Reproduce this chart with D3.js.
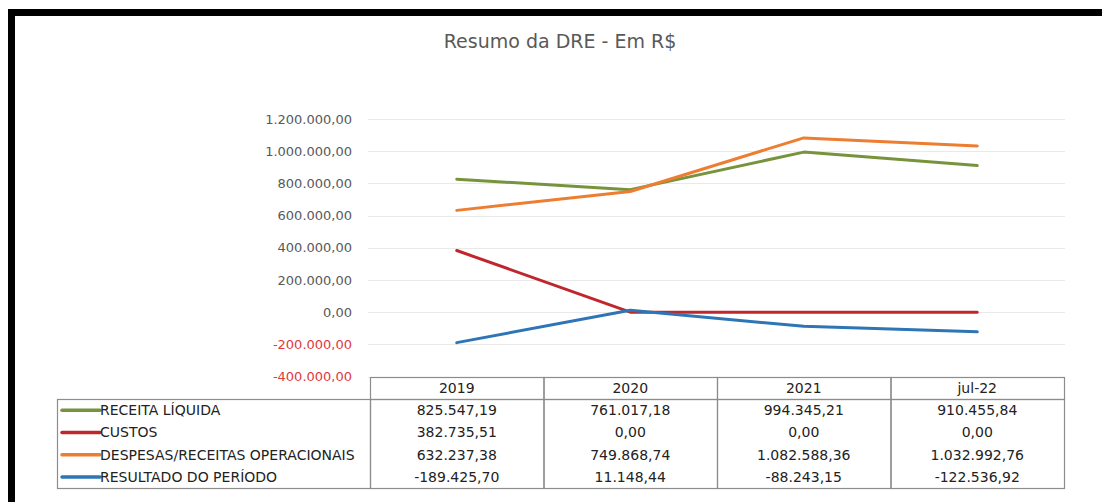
<!DOCTYPE html>
<html>
<head>
<meta charset="utf-8">
<script src="https://cdn.jsdelivr.net/npm/d3@7"></script>
<style>
  html, body { margin: 0; padding: 0; background: #fff; }
  svg { display: block; }
</style>
</head>
<body>
<svg id="chart" width="1102" height="502"></svg>
<script>
// ---- data ----
const categories = ["2019", "2020", "2021", "jul-22"];
const seriesNames = ["RECEITA LÍQUIDA", "CUSTOS", "DESPESAS/RECEITAS OPERACIONAIS", "RESULTADO DO PERÍODO"];
const receitaLiquida = [825547.19, 761017.18, 994345.21, 910455.84];
const custos = [382735.51, 0.00, 0.00, 0.00];
const despesas = [632237.38, 749868.74, 1082588.36, 1032992.76];
const resultado = [-189425.70, 11148.44, -88243.15, -122536.92];
const yTicks = [-400000, -200000, 0, 200000, 400000, 600000, 800000, 1000000, 1200000];
const colors = ["#77933c", "#c0272d", "#ed7d31", "#2e75b6"];
const title = "Resumo da DRE - Em R$";

const seriesValues = [receitaLiquida, custos, despesas, resultado];

// ---- setup ----
const svg = d3.select("#chart");
const font = "'DejaVu Sans', sans-serif";
const loc = d3.formatLocale({ decimal: ",", thousands: ".", grouping: [3], currency: ["R$", ""], minus: "-" });
const fmt = loc.format(",.2f");

// frame
svg.append("rect").attr("x", 8).attr("y", 9).attr("width", 1094).attr("height", 7).attr("fill", "#000");
svg.append("rect").attr("x", 8).attr("y", 9).attr("width", 7).attr("height", 493).attr("fill", "#000");

// scales
const x = d3.scaleBand().domain(categories).range([370, 1064]).padding(0);
const y = d3.scaleLinear().domain([-400000, 1200000]).range([376.5, 119]);
const cx = d => x(d) + x.bandwidth() / 2;

// title
svg.append("text").attr("x", 560).attr("y", 48).attr("text-anchor", "middle")
  .attr("font-family", font).attr("font-size", 19).attr("fill", "#595959").text(title);

// gridlines
svg.append("g").selectAll("line").data(yTicks).join("line")
  .attr("x1", 368).attr("x2", 1065)
  .attr("y1", d => Math.round(y(d)) + 0.5).attr("y2", d => Math.round(y(d)) + 0.5)
  .attr("stroke", "#e9e9e9").attr("stroke-width", 1);

// y axis labels
const yAxis = d3.axisLeft(y).tickValues(yTicks).tickFormat(fmt).tickSize(0).tickPadding(0);
const gy = svg.append("g").attr("transform", "translate(352,0)").call(yAxis);
gy.select(".domain").remove();
gy.selectAll("text")
  .attr("font-family", font).attr("font-size", 13)
  .attr("fill", d => d < 0 ? "#e0393e" : "#595959");

// lines
const line = d3.line().x((d, i) => cx(categories[i])).y(d => y(d));
svg.append("g").selectAll("path").data(seriesValues).join("path")
  .attr("d", d => line(d)).attr("fill", "none")
  .attr("stroke", (d, i) => colors[i]).attr("stroke-width", 3)
  .attr("stroke-linejoin", "round").attr("stroke-linecap", "round");

// ---- data table ----
const tb = svg.append("g");
const headTop = 377, headBot = 399, tabBot = 488;
const rowH = (tabBot - headBot) / seriesNames.length;
const border = "#8c8c8c";

// header cells
tb.selectAll("rect.head").data(categories).join("rect").attr("class", "head")
  .attr("x", d => x(d) + 0.5).attr("y", headTop + 0.5)
  .attr("width", x.bandwidth()).attr("height", headBot - headTop)
  .attr("fill", "none").attr("stroke", border).attr("stroke-width", 1.2);
tb.selectAll("text.head").data(categories).join("text").attr("class", "head")
  .attr("x", d => cx(d)).attr("y", (headTop + headBot) / 2 + 5)
  .attr("text-anchor", "middle").attr("font-family", font).attr("font-size", 14)
  .attr("fill", "#222").text(d => d);

// body cells
tb.selectAll("rect.body").data(categories).join("rect").attr("class", "body")
  .attr("x", d => x(d) + 0.5).attr("y", headBot + 0.5)
  .attr("width", x.bandwidth()).attr("height", tabBot - headBot)
  .attr("fill", "none").attr("stroke", border).attr("stroke-width", 1.2);
// legend box
tb.append("rect").attr("x", 57.5).attr("y", headBot + 0.5)
  .attr("width", 370 - 57).attr("height", tabBot - headBot)
  .attr("fill", "none").attr("stroke", border).attr("stroke-width", 1.2);

seriesNames.forEach((name, si) => {
  const yc = headBot + rowH * (si + 0.5);
  tb.append("line").attr("x1", 62).attr("x2", 100).attr("y1", yc).attr("y2", yc)
    .attr("stroke", colors[si]).attr("stroke-width", 3.5).attr("stroke-linecap", "round");
  tb.append("text").attr("x", 100).attr("y", yc + 5)
    .attr("font-family", font).attr("font-size", 14).attr("fill", "#222").text(name);
  tb.selectAll(null).data(seriesValues[si]).join("text")
    .attr("x", (d, i) => cx(categories[i])).attr("y", yc + 5)
    .attr("text-anchor", "middle").attr("font-family", font).attr("font-size", 14)
    .attr("fill", "#222").text(d => fmt(d));
});
</script>
</body>
</html>
